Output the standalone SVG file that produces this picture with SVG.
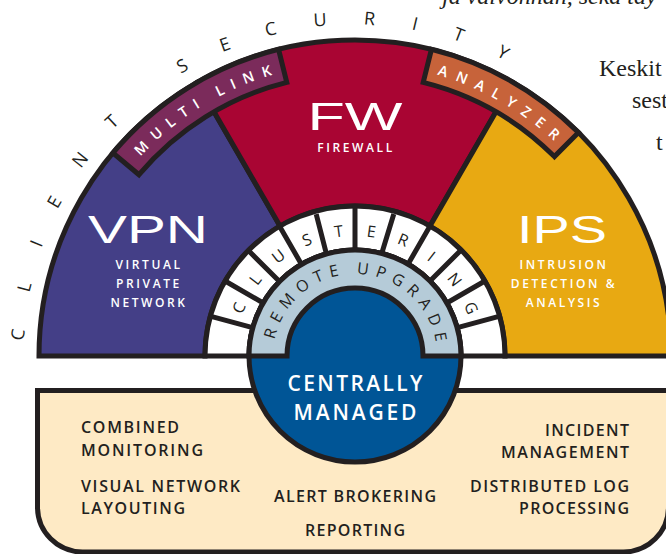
<svg xmlns="http://www.w3.org/2000/svg" width="666" height="554" viewBox="0 0 666 554">
<style>
.ln{stroke:#231f20;stroke-width:5;stroke-linejoin:miter}
.sans{font-family:"Open Sans","Liberation Sans",sans-serif}
.big{font-family:"Liberation Sans","DejaVu Sans",sans-serif;fill:#fff;font-size:38px}
.sub{font-family:"Open Sans","Liberation Sans",sans-serif;fill:#fff;font-size:12px;font-weight:600;letter-spacing:2.6px;text-anchor:middle}
.feat{font-family:"Open Sans","Liberation Sans",sans-serif;fill:#231f20;font-size:16px;font-weight:600}
.band{font-family:"Open Sans","Liberation Sans",sans-serif;fill:#fff;font-size:14.5px;font-weight:600}
.ring{font-family:"Open Sans","Liberation Sans",sans-serif;fill:#231f20;font-size:16px}
.page{font-family:"Liberation Serif","DejaVu Serif",serif;fill:#231f20;font-size:24px}
</style>
<defs>
<path id="pTitle" d="M 24 356 A 331 331 0 0 1 686 356"/>
<path id="pMulti" d="M 130.55 167.66 A 293 293 0 0 1 284.12 71.7"/>
<path id="pAnal" d="M 425.88 71.7 A 293 293 0 0 1 562.18 148.82"/>
<path id="pClus" d="M 235 356 A 120 120 0 0 1 475 356"/>
<path id="pRemote" d="M 273 356 A 82 82 0 0 1 437 356"/>
</defs>

<g id="page-text">
<text class="page" x="442" y="4" font-style="italic">ja valvonnan, sekä täy</text>
<text class="page" x="599" y="76">Keskit</text>
<text class="page" x="632" y="108">sest</text>
<text class="page" x="656" y="150">t</text>
</g>

<g id="features">
<path class="ln" fill="#feeac5" d="M 37.5 390.5 L 668.5 390.5 L 668.5 507 A 45 45 0 0 1 623.5 552 L 82.5 552 A 45 45 0 0 1 37.5 507 Z"/>
<text class="feat" x="81" y="433" textLength="98" lengthAdjust="spacing">COMBINED</text>
<text class="feat" x="81" y="456" textLength="122" lengthAdjust="spacing">MONITORING</text>
<text class="feat" x="81" y="492" textLength="159" lengthAdjust="spacing">VISUAL NETWORK</text>
<text class="feat" x="81" y="514" textLength="104" lengthAdjust="spacing">LAYOUTING</text>
<text class="feat" x="355" y="502" text-anchor="middle" textLength="162" lengthAdjust="spacing">ALERT BROKERING</text>
<text class="feat" x="355" y="536" text-anchor="middle" textLength="100" lengthAdjust="spacing">REPORTING</text>
<text class="feat" x="629" y="436" text-anchor="end" textLength="84" lengthAdjust="spacing">INCIDENT</text>
<text class="feat" x="629" y="458" text-anchor="end" textLength="128" lengthAdjust="spacing">MANAGEMENT</text>
<text class="feat" x="629" y="492" text-anchor="end" textLength="159" lengthAdjust="spacing">DISTRIBUTED LOG</text>
<text class="feat" x="629" y="514" text-anchor="end" textLength="110" lengthAdjust="spacing">PROCESSING</text>
</g>

<g id="vpn">
<path class="ln" fill="#443f87" d="M 205 356 L 39 356 A 316 316 0 0 1 197 82.34 L 280 226.1 A 150 150 0 0 0 205 356 Z"/>
<text class="big" x="148" y="243" text-anchor="middle" textLength="120" lengthAdjust="spacingAndGlyphs">VPN</text>
<text class="sub" x="149" y="269">VIRTUAL</text>
<text class="sub" x="149" y="288">PRIVATE</text>
<text class="sub" x="149" y="307">NETWORK</text>
</g>

<g id="fw">
<path class="ln" fill="#a90533" d="M 280 226.1 L 197 82.34 A 316 316 0 0 1 513 82.34 L 430 226.1 A 150 150 0 0 0 280 226.1 Z"/>
<text class="big" x="355" y="130" text-anchor="middle" font-size="36" textLength="95" lengthAdjust="spacingAndGlyphs">FW</text>
<text class="sub" x="356" y="152">FIREWALL</text>
</g>

<g id="ips">
<path class="ln" fill="#e8a912" d="M 430 226.1 L 513 82.34 A 316 316 0 0 1 671 356 L 505 356 A 150 150 0 0 0 430 226.1 Z"/>
<text class="big" x="562" y="243" text-anchor="middle" textLength="90" lengthAdjust="spacingAndGlyphs">IPS</text>
<text class="sub" x="564" y="269">INTRUSION</text>
<text class="sub" x="564" y="288">DETECTION &amp;</text>
<text class="sub" x="564" y="307">ANALYSIS</text>
</g>

<g id="multi-link">
<path class="ln" fill="#7b2b5b" d="M 139 174.73 L 112.93 152.88 A 316 316 0 0 1 278.55 49.4 L 286.78 82.38 A 282 282 0 0 0 139 174.73 Z"/>
<text class="band" letter-spacing="8.4"><textPath href="#pMulti" startOffset="14.8">MULTI LINK</textPath></text>
</g>

<g id="analyzer">
<path class="ln" fill="#c7633a" d="M 423.22 82.38 L 431.45 49.4 A 316 316 0 0 1 578.44 132.56 L 554.4 156.6 A 282 282 0 0 0 423.22 82.38 Z"/>
<text class="band" letter-spacing="8.95"><textPath href="#pAnal" startOffset="11.6">ANALYZER</textPath></text>
</g>

<g id="client-security">
<text class="sans" fill="#231f20" font-size="18" letter-spacing="36.8"><textPath href="#pTitle" startOffset="15.1">CLIENT SECURITY</textPath></text>
</g>

<g id="clustering">
<path class="ln" fill="#fff" d="M 205 356 A 150 150 0 0 1 505 356 L 461 356 A 106 106 0 0 0 249 356 Z"/>
<path class="ln" fill="none" d="M 252.6 327.6 L 210.1 316.2 M 263.2 303 L 225.1 281 M 280 282.1 L 248.9 251 M 302 265.2 L 280 227.1 M 326.6 254.6 L 316.2 214.1 M 355 250 L 355 206 M 381.4 254.6 L 393.8 214.1 M 408 264.2 L 430 226.1 M 430 281 L 461.1 250 M 446.8 303 L 484.9 281 M 457.4 327.6 L 499.9 316.2"/>
<text class="ring" text-anchor="middle"><textPath href="#pClus" startOffset="47.12">C</textPath><textPath href="#pClus" startOffset="78.54">L</textPath><textPath href="#pClus" startOffset="109.96">U</textPath><textPath href="#pClus" startOffset="141.37">S</textPath><textPath href="#pClus" startOffset="172.79">T</textPath><textPath href="#pClus" startOffset="204.2">E</textPath><textPath href="#pClus" startOffset="235.62">R</textPath><textPath href="#pClus" startOffset="267.04">I</textPath><textPath href="#pClus" startOffset="298.45">N</textPath><textPath href="#pClus" startOffset="329.87">G</textPath></text>
</g>

<g id="centrally-managed">
<circle class="ln" cx="355" cy="356" r="106" fill="#005596"/>
<text class="sans" x="355" y="391" text-anchor="middle" fill="#fff" font-size="21" font-weight="600" textLength="135" lengthAdjust="spacing">CENTRALLY</text>
<text class="sans" x="355" y="420" text-anchor="middle" fill="#fff" font-size="21" font-weight="600" textLength="123" lengthAdjust="spacing">MANAGED</text>
</g>

<g id="remote-upgrade">
<path class="ln" fill="#b5cbd8" d="M 249 356 A 106 106 0 0 1 461 356 L 423 356 A 68 68 0 0 0 287 356 Z"/>
<text class="ring" letter-spacing="6.6"><textPath href="#pRemote" startOffset="16.4">REMOTE UPGRADE</textPath></text>
</g>

<g id="connectors"/>
</svg>
